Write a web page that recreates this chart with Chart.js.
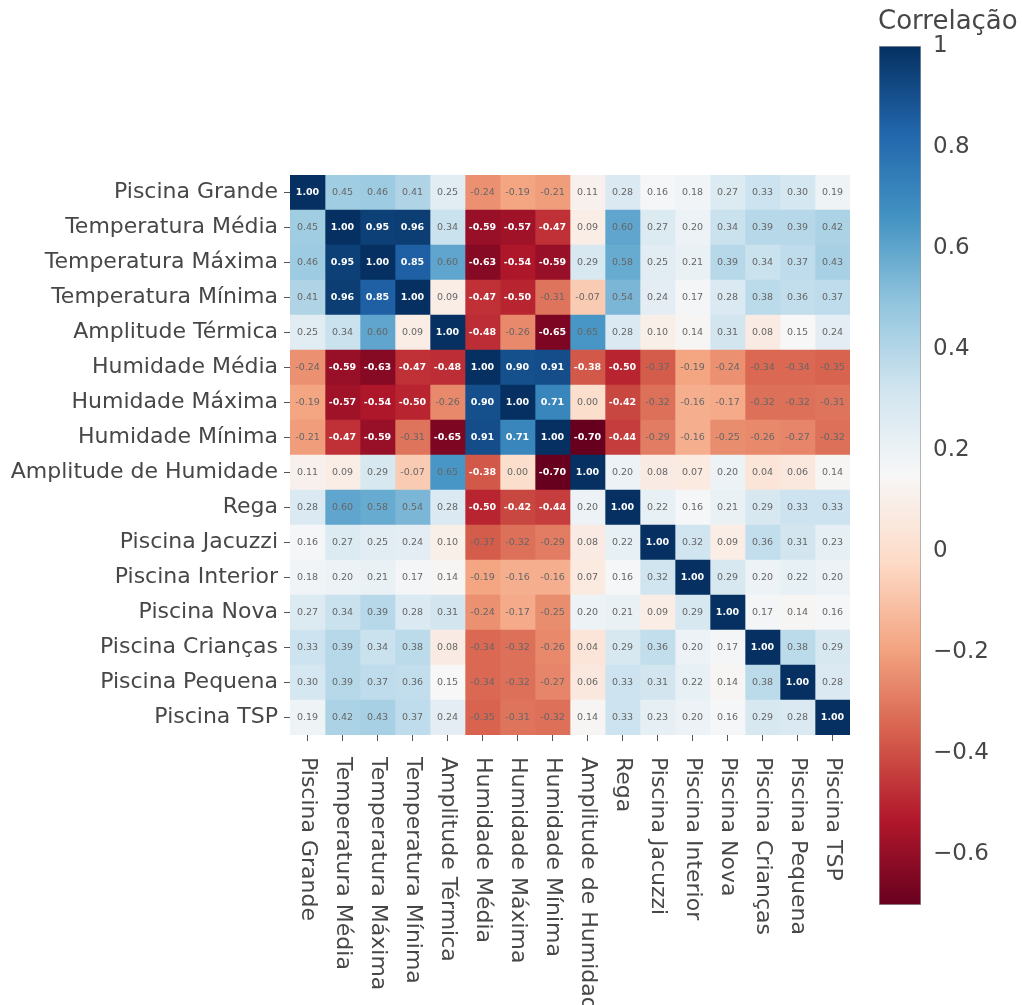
<!DOCTYPE html>
<html>
<head>
<meta charset="utf-8">
<script src="https://cdn.jsdelivr.net/npm/chart.js@4.4.1/dist/chart.umd.min.js"></script>
<style>
  html, body { margin: 0; padding: 0; background: #ffffff; }
  #wrap { position: relative; width: 1022px; height: 1005px; overflow: hidden; }
  #heat { position: absolute; left: 0; top: 0; width: 860px; height: 1005px; }
  #bar  { position: absolute; left: 850px; top: 0; width: 172px; height: 1005px; }
</style>
</head>
<body>
<div id="wrap">
  <canvas id="heat" width="860" height="1005"></canvas>
  <canvas id="bar" width="172" height="1005"></canvas>
</div>
<script>
// Variables of the correlation matrix (rows top-to-bottom, columns left-to-right)
const variables = [
  'Piscina Grande', 'Temperatura Média', 'Temperatura Máxima', 'Temperatura Mínima',
  'Amplitude Térmica', 'Humidade Média', 'Humidade Máxima', 'Humidade Mínima',
  'Amplitude de Humidade', 'Rega', 'Piscina Jacuzzi', 'Piscina Interior',
  'Piscina Nova', 'Piscina Crianças', 'Piscina Pequena', 'Piscina TSP'
];

// Pearson correlations, one row per variable
const correlations = [
  [ 1.00,  0.45,  0.46,  0.41,  0.25, -0.24, -0.19, -0.21,  0.11,  0.28,  0.16,  0.18,  0.27,  0.33,  0.30,  0.19],
  [ 0.45,  1.00,  0.95,  0.96,  0.34, -0.59, -0.57, -0.47,  0.09,  0.60,  0.27,  0.20,  0.34,  0.39,  0.39,  0.42],
  [ 0.46,  0.95,  1.00,  0.85,  0.60, -0.63, -0.54, -0.59,  0.29,  0.58,  0.25,  0.21,  0.39,  0.34,  0.37,  0.43],
  [ 0.41,  0.96,  0.85,  1.00,  0.09, -0.47, -0.50, -0.31, -0.07,  0.54,  0.24,  0.17,  0.28,  0.38,  0.36,  0.37],
  [ 0.25,  0.34,  0.60,  0.09,  1.00, -0.48, -0.26, -0.65,  0.65,  0.28,  0.10,  0.14,  0.31,  0.08,  0.15,  0.24],
  [-0.24, -0.59, -0.63, -0.47, -0.48,  1.00,  0.90,  0.91, -0.38, -0.50, -0.37, -0.19, -0.24, -0.34, -0.34, -0.35],
  [-0.19, -0.57, -0.54, -0.50, -0.26,  0.90,  1.00,  0.71,  0.00, -0.42, -0.32, -0.16, -0.17, -0.32, -0.32, -0.31],
  [-0.21, -0.47, -0.59, -0.31, -0.65,  0.91,  0.71,  1.00, -0.70, -0.44, -0.29, -0.16, -0.25, -0.26, -0.27, -0.32],
  [ 0.11,  0.09,  0.29, -0.07,  0.65, -0.38,  0.00, -0.70,  1.00,  0.20,  0.08,  0.07,  0.20,  0.04,  0.06,  0.14],
  [ 0.28,  0.60,  0.58,  0.54,  0.28, -0.50, -0.42, -0.44,  0.20,  1.00,  0.22,  0.16,  0.21,  0.29,  0.33,  0.33],
  [ 0.16,  0.27,  0.25,  0.24,  0.10, -0.37, -0.32, -0.29,  0.08,  0.22,  1.00,  0.32,  0.09,  0.36,  0.31,  0.23],
  [ 0.18,  0.20,  0.21,  0.17,  0.14, -0.19, -0.16, -0.16,  0.07,  0.16,  0.32,  1.00,  0.29,  0.20,  0.22,  0.20],
  [ 0.27,  0.34,  0.39,  0.28,  0.31, -0.24, -0.17, -0.25,  0.20,  0.21,  0.09,  0.29,  1.00,  0.17,  0.14,  0.16],
  [ 0.33,  0.39,  0.34,  0.38,  0.08, -0.34, -0.32, -0.26,  0.04,  0.29,  0.36,  0.20,  0.17,  1.00,  0.38,  0.29],
  [ 0.30,  0.39,  0.37,  0.36,  0.15, -0.34, -0.32, -0.27,  0.06,  0.33,  0.31,  0.22,  0.14,  0.38,  1.00,  0.28],
  [ 0.19,  0.42,  0.43,  0.37,  0.24, -0.35, -0.31, -0.32,  0.14,  0.33,  0.23,  0.20,  0.16,  0.29,  0.28,  1.00]
];

// Colour scale limits and colour bar ticks
const colorRange = [-0.7, 1.0];
const colorbarTicks = [1, 0.8, 0.6, 0.4, 0.2, 0, -0.2, -0.4, -0.6];
const colorbarTitle = 'Correlação';

// Diverging red-blue palette, low to high
const rdbuStops = ['#67001f', '#b2182b', '#d6604d', '#f4a582', '#fddbc7', '#f7f7f7',
                   '#d1e5f0', '#92c5de', '#4393c3', '#2166ac', '#053061'];

function hexToRgb(h) {
  return [parseInt(h.slice(1, 3), 16), parseInt(h.slice(3, 5), 16), parseInt(h.slice(5, 7), 16)];
}
function normalize(v) {
  const t = (v - colorRange[0]) / (colorRange[1] - colorRange[0]);
  return Math.max(0, Math.min(1, t));
}
function colorFor(v) {
  const pos = normalize(v) * (rdbuStops.length - 1);
  const i = Math.min(Math.floor(pos), rdbuStops.length - 2);
  const f = pos - i;
  const a = hexToRgb(rdbuStops[i]), b = hexToRgb(rdbuStops[i + 1]);
  const c = a.map((x, k) => Math.round(x + (b[k] - x) * f));
  return `rgb(${c[0]},${c[1]},${c[2]})`;
}
function needsLightText(v) {
  const t = normalize(v);
  return t < 0.19 || t > 0.81;
}

const FONT = '"DejaVu Sans", Verdana, sans-serif';
const TEXT_COLOR = '#474747';

// One floating-bar dataset per column; each bar spans one cell
const datasets = variables.map((name, j) => ({
  label: name,
  data: variables.map(() => [j - 0.5, j + 0.5]),
  backgroundColor: variables.map((_, i) => colorFor(correlations[i][j])),
  borderWidth: 0,
  barPercentage: 1,
  categoryPercentage: 1,
  grouped: false
}));

// Writes each coefficient in the middle of its cell
const cellValues = {
  id: 'cellValues',
  afterDatasetsDraw(chart) {
    const { ctx, scales: { x, y } } = chart;
    ctx.save();
    ctx.textAlign = 'center';
    ctx.textBaseline = 'middle';
    correlations.forEach((row, i) => {
      row.forEach((v, j) => {
        const light = needsLightText(v);
        ctx.font = (light ? 'bold ' : '') + '9.5px ' + FONT;
        ctx.fillStyle = light ? '#ffffff' : '#666666';
        ctx.fillText(v.toFixed(2), x.getPixelForValue(j), y.getPixelForValue(i) + 0.5);
      });
    });
    ctx.restore();
  }
};

// Column names written downwards under each tick
const columnLabels = {
  id: 'columnLabels',
  afterDraw(chart) {
    const { ctx, scales: { x } } = chart;
    ctx.save();
    ctx.font = '22px ' + FONT;
    ctx.fillStyle = TEXT_COLOR;
    ctx.textAlign = 'left';
    ctx.textBaseline = 'middle';
    variables.forEach((name, j) => {
      ctx.save();
      ctx.translate(x.getPixelForValue(j), x.top + 22);
      ctx.rotate(Math.PI / 2);
      ctx.fillText(name, 0, 0);
      ctx.restore();
    });
    ctx.restore();
  }
};

new Chart(document.getElementById('heat'), {
  type: 'bar',
  data: { labels: variables, datasets },
  options: {
    indexAxis: 'y',
    responsive: false,
    animation: false,
    layout: { padding: { top: 175, left: 0, right: 10, bottom: 258 } },
    scales: {
      x: {
        type: 'linear',
        min: -0.5,
        max: 15.5,
        afterBuildTicks: s => { s.ticks = variables.map((_, j) => ({ value: j })); },
        afterFit: s => { s.height = 12; },
        ticks: { display: false },
        grid: { drawOnChartArea: false, drawTicks: true, tickLength: 6, color: '#555555' },
        border: { display: false }
      },
      y: {
        type: 'category',
        offset: true,
        afterFit: s => { s.width = 290; },
        ticks: { autoSkip: false, padding: 6, color: TEXT_COLOR, font: { family: FONT, size: 22 } },
        grid: { offset: false, drawOnChartArea: false, drawTicks: true, tickLength: 6, color: '#555555' },
        border: { display: false }
      }
    },
    plugins: { legend: { display: false }, tooltip: { enabled: false } }
  },
  plugins: [cellValues, columnLabels]
});

// Colour bar: one floating bar from the lowest to the highest coefficient
function formatTick(v) {
  if (v === 0) return '0';
  return v < 0 ? '\u2212' + String(Math.abs(v)) : String(v);
}

const colorbarTitlePlugin = {
  id: 'colorbarTitle',
  afterDraw(chart) {
    const { ctx } = chart;
    ctx.save();
    ctx.font = '26px ' + FONT;
    ctx.fillStyle = TEXT_COLOR;
    ctx.textAlign = 'left';
    ctx.textBaseline = 'middle';
    ctx.fillText(colorbarTitle, 28, 22);
    ctx.restore();
  }
};

new Chart(document.getElementById('bar'), {
  type: 'bar',
  data: {
    labels: [colorbarTitle],
    datasets: [{
      data: [colorRange.slice()],
      backgroundColor: c => {
        const chart = c.chart;
        if (!chart.chartArea) return '#ffffff';
        const ys = chart.scales.y;
        const g = chart.ctx.createLinearGradient(0, ys.getPixelForValue(colorRange[0]), 0, ys.getPixelForValue(colorRange[1]));
        rdbuStops.forEach((col, k) => g.addColorStop(k / (rdbuStops.length - 1), col));
        return g;
      },
      borderColor: '#9a9a9a',
      borderWidth: 1,
      borderSkipped: false,
      barPercentage: 1,
      categoryPercentage: 1
    }]
  },
  options: {
    responsive: false,
    animation: false,
    layout: { padding: { top: 46, left: 29, right: 0, bottom: 100 } },
    scales: {
      x: { display: false },
      y: {
        position: 'right',
        min: colorRange[0],
        max: colorRange[1],
        afterBuildTicks: s => { s.ticks = colorbarTicks.map(v => ({ value: v })); },
        afterFit: s => { s.width = 101; },
        grid: { display: false },
        border: { display: false },
        ticks: { padding: 4, color: TEXT_COLOR, font: { family: FONT, size: 23 }, callback: v => formatTick(v) }
      }
    },
    plugins: { legend: { display: false }, tooltip: { enabled: false } }
  },
  plugins: [colorbarTitlePlugin]
});
</script>
</body>
</html>
